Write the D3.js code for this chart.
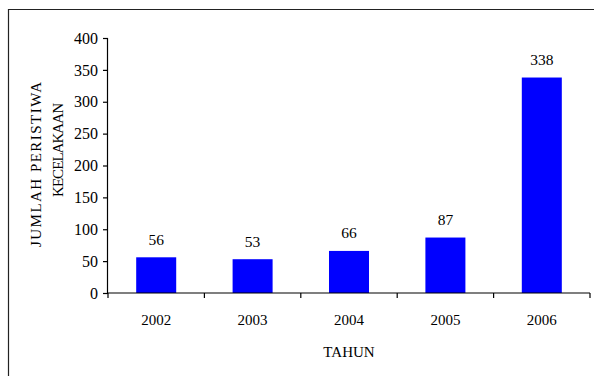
<!DOCTYPE html>
<html>
<head>
<meta charset="utf-8">
<script src="https://cdn.jsdelivr.net/npm/d3@7"></script>
<style>
  html, body { margin: 0; padding: 0; background: #fff; }
  svg { display: block; }
  svg text { font-family: "Times New Roman", Times, "Liberation Serif", serif; fill: #000; }
</style>
</head>
<body>
<svg id="chart" width="594" height="376"></svg>
<script>
// Data
const years = ["2002", "2003", "2004", "2005", "2006"];
const accidents = [56, 53, 66, 87, 338];
const yTicks = [0, 50, 100, 150, 200, 250, 300, 350, 400];
const yTitleLines = ["JUMLAH PERISTIWA", "KECELAKAAN"];
const xTitle = "TAHUN";

const FONT = '"Times New Roman", Times, "Liberation Serif", serif';
const svg = d3.select("#chart");
const W = 594, H = 376;
const plot = { left: 108, right: 590, top: 38, bottom: 293 };

// Outer frame (left and top edges visible)
svg.append("path")
  .attr("d", `M8.5,${H} L8.5,9.5 L${W},9.5`)
  .attr("fill", "none")
  .attr("stroke", "#222")
  .attr("stroke-width", 1.2);

const x = d3.scaleBand()
  .domain(years)
  .range([plot.left, plot.right])
  .paddingInner(0.585)
  .paddingOuter(0.2925);

const y = d3.scaleLinear()
  .domain([0, 400])
  .range([plot.bottom, plot.top]);

const rows = years.map((yr, i) => ({ yr, v: accidents[i] }));

// Bars
svg.append("g").selectAll("rect")
  .data(rows)
  .join("rect")
  .attr("x", d => x(d.yr))
  .attr("y", d => y(d.v))
  .attr("width", x.bandwidth())
  .attr("height", d => y(0) - y(d.v))
  .attr("fill", "#0000ff");

// Value labels
svg.append("g").selectAll("text")
  .data(rows)
  .join("text")
  .attr("x", d => x(d.yr) + x.bandwidth() / 2)
  .attr("y", d => y(d.v) - 12.5)
  .attr("text-anchor", "middle")
  .style("font-family", FONT)
  .style("font-size", "15.5px")
  .text(d => d.v);

// Y axis
const yAxis = svg.append("g")
  .attr("transform", `translate(${plot.left},0)`)
  .call(d3.axisLeft(y).tickValues(yTicks).tickSize(5).tickPadding(5).tickFormat(d3.format("d")));
yAxis.attr("font-family", null).attr("font-size", null);
yAxis.selectAll("path, line").attr("stroke", "#000").attr("stroke-width", 1.2);
yAxis.select(".domain").attr("d", `M-0.5,${plot.top}V${plot.bottom}`);
yAxis.selectAll("text").style("font-size", "16px").style("font-family", FONT);

// X axis with boundary ticks between categories
const xAxisG = svg.append("g")
  .attr("transform", `translate(0,${plot.bottom})`);
xAxisG.append("line")
  .attr("x1", plot.left - 0.5).attr("x2", plot.right)
  .attr("stroke", "#000").attr("stroke-width", 1.2);
const bounds = d3.range(years.length + 1).map(i => plot.left + i * (plot.right - plot.left) / years.length);
xAxisG.selectAll("line.tick")
  .data(bounds)
  .join("line")
  .attr("class", "tick")
  .attr("x1", d => d).attr("x2", d => d)
  .attr("y1", 0).attr("y2", 5)
  .attr("stroke", "#000").attr("stroke-width", 1.2);
xAxisG.selectAll("text")
  .data(years)
  .join("text")
  .attr("x", d => x(d) + x.bandwidth() / 2)
  .attr("y", 32)
  .attr("text-anchor", "middle")
  .style("font-family", FONT)
  .style("font-size", "15px")
  .text(d => d);

// Axis titles
svg.append("text")
  .attr("x", (plot.left + plot.right) / 2)
  .attr("y", 357)
  .attr("text-anchor", "middle")
  .style("font-family", FONT)
  .style("font-size", "15px")
  .text(xTitle);

const titlePos = [
  { cx: 41, cy: 164.5, len: 165 },
  { cx: 63, cy: 150, len: 94 }
];
svg.append("g").selectAll("text")
  .data(yTitleLines)
  .join("text")
  .attr("transform", (d, i) => `translate(${titlePos[i].cx},${titlePos[i].cy}) rotate(-90)`)
  .attr("text-anchor", "middle")
  .attr("textLength", (d, i) => titlePos[i].len)
  .attr("lengthAdjust", "spacing")
  .style("font-family", FONT)
  .style("font-size", "15px")
  .text(d => d);
</script>
</body>
</html>
